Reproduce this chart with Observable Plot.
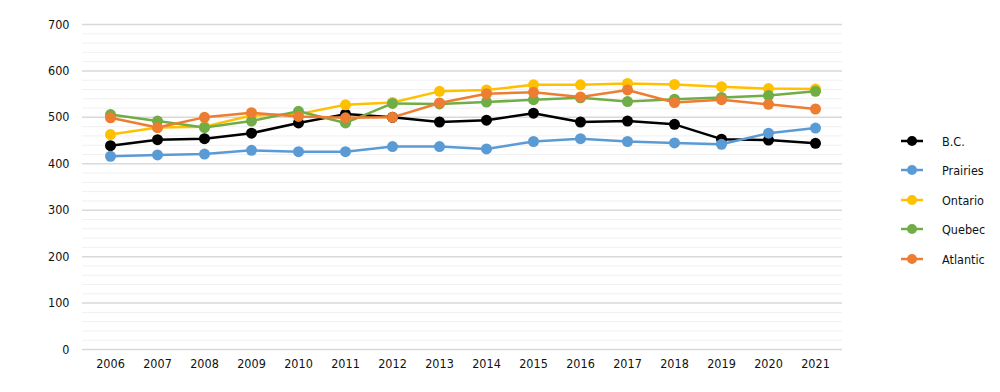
<!DOCTYPE html>
<html>
<head>
<meta charset="utf-8">
<script src="https://cdn.jsdelivr.net/npm/d3@7"></script>
<script src="https://cdn.jsdelivr.net/npm/@observablehq/plot@0.6"></script>
<style>
  html, body { margin: 0; padding: 0; background: #fff; }
  #wrap { position: relative; width: 1000px; height: 392px; }
  #legend { position: absolute; left: 900px; top: 0; font-family: "Liberation Sans Narrow", "DejaVu Sans Condensed", "Roboto", sans-serif; font-size: 12.5px; color: #111; }
  .item { position: absolute; left: 0; display: flex; align-items: center; white-space: nowrap; }
  .item span { margin-left: 18px; }
</style>
</head>
<body>
<div id="wrap"><div id="legend"></div></div>
<script>
const years = ["2006","2007","2008","2009","2010","2011","2012","2013","2014","2015","2016","2017","2018","2019","2020","2021"];
const seriesNames = ["B.C.", "Prairies", "Ontario", "Quebec", "Atlantic"];
const seriesColors = ["#000000", "#5B9BD5", "#FFC000", "#70AD47", "#ED7D31"];
const bc       = [439, 452, 454, 466, 488, 507, 500, 490, 494, 509, 490, 492, 485, 453, 451, 444];
const prairies = [416, 419, 421, 429, 426, 426, 437, 437, 432, 448, 454, 448, 445, 442, 466, 477];
const ontario  = [463, 478, 480, 504, 507, 527, 532, 556, 559, 570, 570, 573, 571, 566, 562, 561];
const quebec   = [506, 492, 478, 492, 513, 488, 530, 529, 533, 538, 542, 534, 539, 543, 547, 556];
const atlantic = [499, 478, 500, 510, 502, 499, 500, 531, 551, 554, 544, 559, 532, 538, 528, 518];
const yMajor = [0, 100, 200, 300, 400, 500, 600, 700];
const yMinor = d3.range(20, 700, 20).filter(v => v % 100 !== 0);

const allSeries = [bc, prairies, ontario, quebec, atlantic];
const data = [];
seriesNames.forEach((name, i) => {
  years.forEach((yr, j) => data.push({series: name, year: yr, value: allSeries[i][j]}));
});

const font = '"Liberation Sans Narrow", "DejaVu Sans Condensed", "Roboto", sans-serif';

const chart = Plot.plot({
  width: 1000,
  height: 392,
  marginLeft: 82,
  marginRight: 158,
  marginTop: 24,
  marginBottom: 43,
  style: {fontFamily: font, fontSize: "12.5px", color: "#111", background: "#fff"},
  x: {type: "point", domain: years, padding: 0.5, label: null},
  y: {domain: [0, 700], label: null},
  color: {domain: seriesNames, range: seriesColors},
  marks: [
    Plot.ruleY(yMinor, {stroke: "#f0f0f0", strokeWidth: 1}),
    Plot.ruleY(yMajor, {stroke: "#d9d9d9", strokeWidth: 1.5}),
    Plot.axisY({ticks: yMajor, tickSize: 0, tickPadding: 13, label: null, fontSize: 12.5}),
    Plot.axisX({tickSize: 0, tickPadding: 10, label: null, fontSize: 12.5}),
    Plot.line(data, {x: "year", y: "value", z: "series", stroke: "series", strokeWidth: 2.5}),
    Plot.dot(data, {x: "year", y: "value", fill: "series", r: 5.5})
  ]
});
document.getElementById("wrap").prepend(chart);

const legend = document.getElementById("legend");
const rowsY = [141, 170, 200, 229, 259];
seriesNames.forEach((name, i) => {
  const div = document.createElement("div");
  div.className = "item";
  div.style.top = (rowsY[i] - 8) + "px";
  div.innerHTML = `<svg width="24" height="16"><line x1="1" x2="23" y1="8" y2="8" stroke="${seriesColors[i]}" stroke-width="2.5"/><circle cx="12" cy="8" r="5" fill="${seriesColors[i]}"/></svg><span>${name}</span>`;
  legend.appendChild(div);
});
</script>
</body>
</html>
